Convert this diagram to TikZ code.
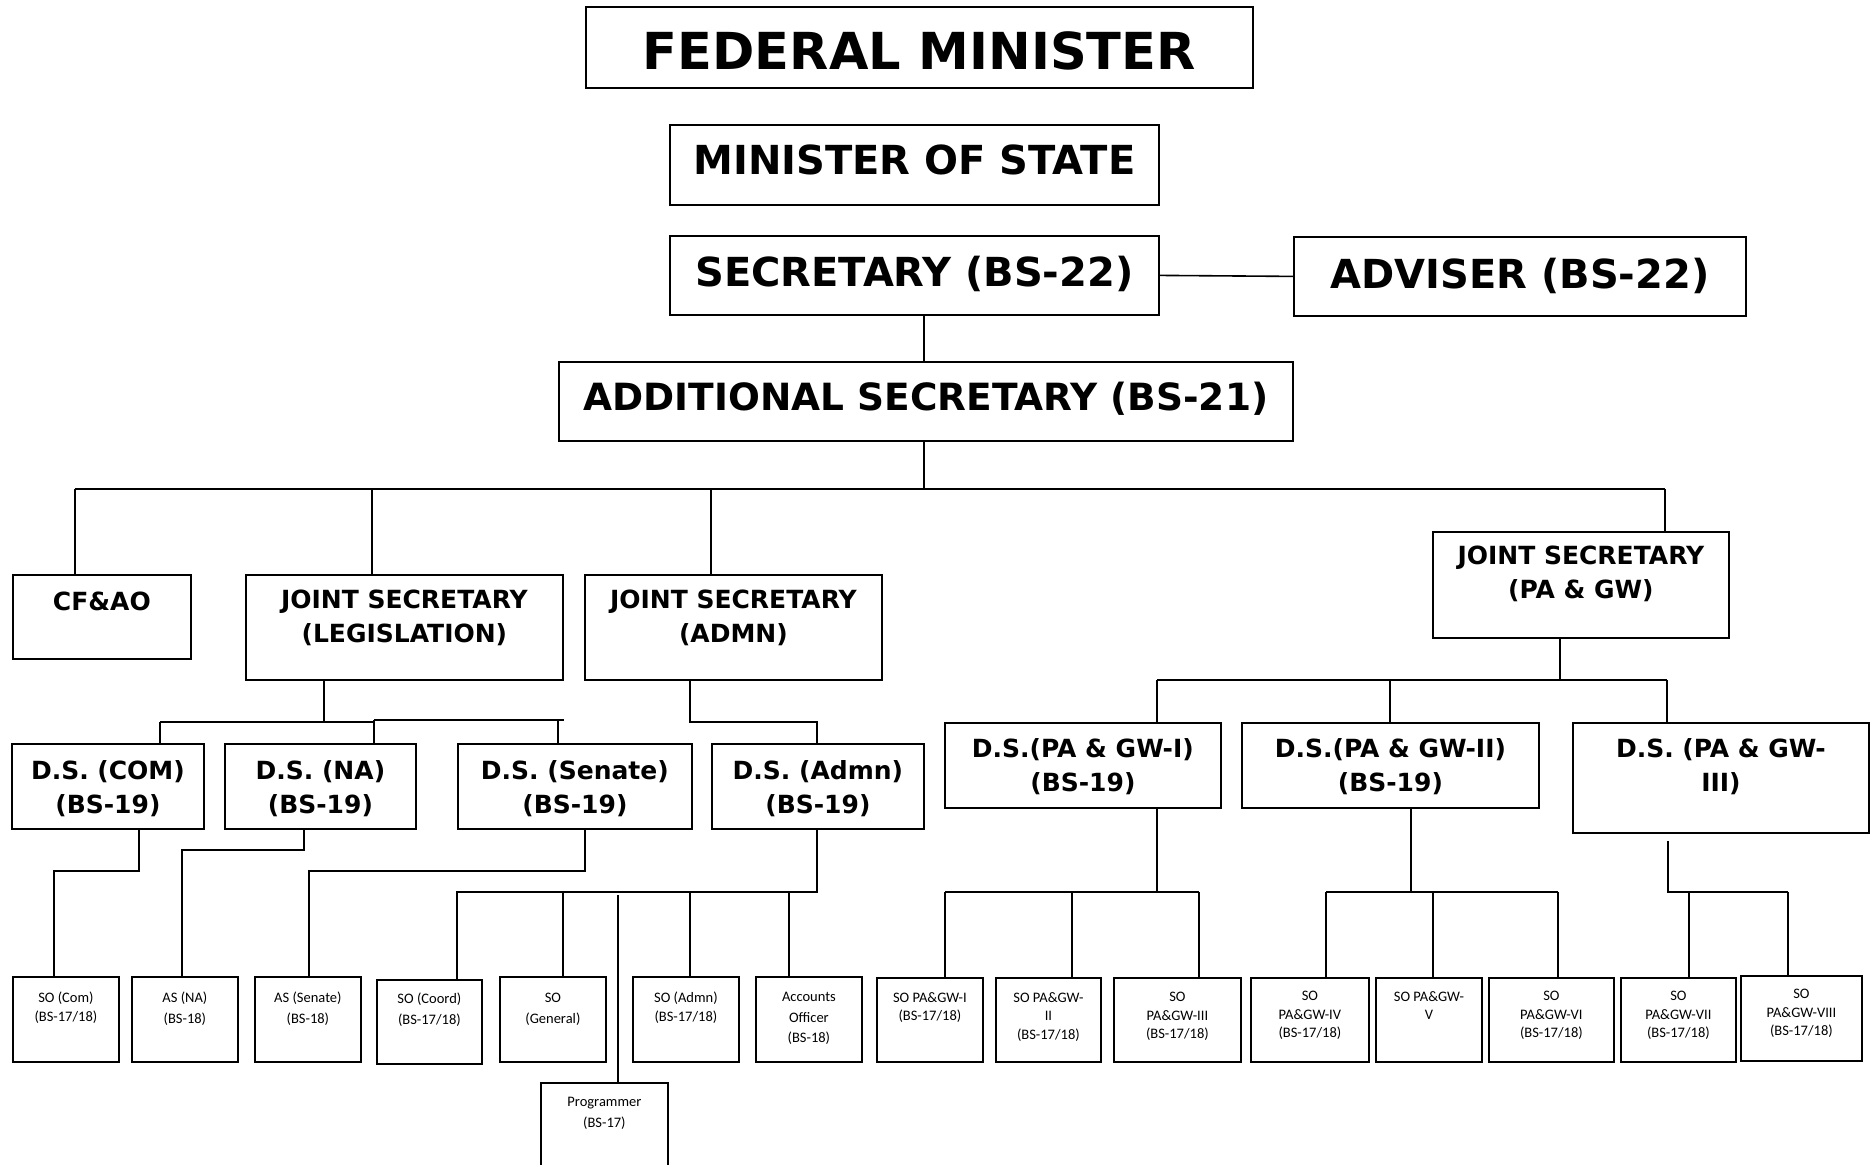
\documentclass[tikz,border=0pt]{standalone}
\usepackage{fontspec}
\newfontfamily\verd{DejaVu Sans}
\newfontfamily\cali{Carlito}
\begin{document}
\begin{tikzpicture}[x=1pt, y=-1pt,
    box/.style={draw, line width=1.8pt, inner sep=0pt, anchor=north west},
    wire/.style={line width=1.6pt},
    head/.style={anchor=north, align=center, inner sep=0pt, font=\verd\bfseries\fontsize{#1}{#1}\selectfont},
    hd/.style={anchor=north, align=center, inner sep=0pt, font=\verd\bfseries\fontsize{25}{34}\selectfont},
    sm/.style={anchor=north, align=center, inner sep=0pt, font=\cali\fontsize{14.5}{#1}\selectfont},
    sm/.default=18.5]

  \path[use as bounding box, fill=white] (0,0) rectangle (1875,1165);

  % ministers and secretary
  \node (fm) [box, minimum width=667pt, minimum height=81pt,
    label={[head=51, yshift=-25pt]north:FEDERAL MINISTER}] at (585,6) {};
  \node (mos) [box, minimum width=489pt, minimum height=80pt,
    label={[head=40, yshift=-21pt]north:MINISTER OF STATE}] at (669,124) {};
  \node (sec) [box, minimum width=489pt, minimum height=79pt,
    label={[head=40, yshift=-21pt]north:SECRETARY (BS-22)}] at (669,235) {};
  \node (adv) [box, minimum width=452pt, minimum height=79pt,
    label={[head=40, yshift=-22pt]north:ADVISER (BS-22)}] at (1293,236) {};
  \node (as) [box, minimum width=734pt, minimum height=79pt,
    label={[head=37.5, yshift=-21pt]north:ADDITIONAL SECRETARY (BS-21)}] at (558,361) {};

  % joint secretaries
  \node (cfao) [box, minimum width=178pt, minimum height=84pt,
    label={[hd, yshift=-18pt]north:CF\&AO}] at (12,574) {};
  \node (jsl) [box, minimum width=317pt, minimum height=105pt,
    label={[hd, yshift=-16pt]north:JOINT SECRETARY\\(LEGISLATION)}] at (245,574) {};
  \node (jsa) [box, minimum width=297pt, minimum height=105pt,
    label={[hd, yshift=-16pt]north:JOINT SECRETARY\\(ADMN)}] at (584,574) {};
  \node (jsp) [box, minimum width=296pt, minimum height=106pt,
    label={[hd, yshift=-15pt]north:JOINT SECRETARY\\(PA \& GW)}] at (1432,531) {};

  % deputy secretaries
  \node (dsc) [box, minimum width=192pt, minimum height=85pt,
    label={[hd, yshift=-17pt]north:D.S. (COM)\\(BS-19)}] at (11,743) {};
  \node (dsn) [box, minimum width=191pt, minimum height=85pt,
    label={[hd, yshift=-17pt]north:D.S. (NA)\\(BS-19)}] at (224,743) {};
  \node (dss) [box, minimum width=234pt, minimum height=85pt,
    label={[hd, yshift=-17pt]north:D.S. (Senate)\\(BS-19)}] at (457,743) {};
  \node (dsa) [box, minimum width=212pt, minimum height=85pt,
    label={[hd, yshift=-17pt]north:D.S. (Admn)\\(BS-19)}] at (711,743) {};
  \node (dp1) [box, minimum width=276pt, minimum height=85pt,
    label={[hd, yshift=-16pt]north:D.S.(PA \& GW-I)\\(BS-19)}] at (944,722) {};
  \node (dp2) [box, minimum width=297pt, minimum height=85pt,
    label={[hd, yshift=-16pt]north:D.S.(PA \& GW-II)\\(BS-19)}] at (1241,722) {};
  \node (dp3) [box, minimum width=296pt, minimum height=110pt,
    label={[hd, yshift=-16pt]north:D.S. (PA \& GW-\\III)}] at (1572,722) {};

  % section officers
  \node (so1) [box, minimum width=106pt, minimum height=85pt,
    label={[sm, yshift=-16pt]north:SO (Com)\\(BS-17/18)}] at (12,976) {};
  \node (so2) [box, minimum width=106pt, minimum height=85pt,
    label={[sm=20.5, yshift=-16pt]north:AS (NA)\\(BS-18)}] at (131,976) {};
  \node (so3) [box, minimum width=106pt, minimum height=85pt,
    label={[sm=20.5, yshift=-16pt]north:AS (Senate)\\(BS-18)}] at (254,976) {};
  \node (so4) [box, minimum width=105pt, minimum height=84pt,
    label={[sm=20.5, yshift=-14pt]north:SO (Coord)\\(BS-17/18)}] at (376,979) {};
  \node (so5) [box, minimum width=106pt, minimum height=85pt,
    label={[sm=20.5, yshift=-17pt]north:SO\\(General)}] at (499,976) {};
  \node (so6) [box, minimum width=106pt, minimum height=85pt,
    label={[sm, yshift=-16pt]north:SO (Admn)\\(BS-17/18)}] at (632,976) {};
  \node (so7) [box, minimum width=106pt, minimum height=85pt,
    label={[sm=20.5, yshift=-16pt]north:Accounts\\Officer\\(BS-18)}] at (755,976) {};
  \node (so8) [box, minimum width=106pt, minimum height=84pt,
    label={[sm, yshift=-15pt]north:SO PA\&GW-I\\(BS-17/18)}] at (876,977) {};
  \node (so9) [box, minimum width=105pt, minimum height=84pt,
    label={[sm, yshift=-15pt]north:SO PA\&GW-\\II\\(BS-17/18)}] at (995,977) {};
  \node (so10) [box, minimum width=127pt, minimum height=84pt,
    label={[sm, yshift=-15pt]north:SO\\PA\&GW-III\\(BS-17/18)}] at (1113,977) {};
  \node (so11) [box, minimum width=118pt, minimum height=84pt,
    label={[sm, yshift=-14pt]north:SO\\PA\&GW-IV\\(BS-17/18)}] at (1250,977) {};
  \node (so12) [box, minimum width=106pt, minimum height=84pt,
    label={[sm, yshift=-14pt]north:SO PA\&GW-\\V}] at (1375,977) {};
  \node (so13) [box, minimum width=125pt, minimum height=84pt,
    label={[sm, yshift=-14pt]north:SO\\PA\&GW-VI\\(BS-17/18)}] at (1488,977) {};
  \node (so14) [box, minimum width=115pt, minimum height=84pt,
    label={[sm, yshift=-14pt]north:SO\\PA\&GW-VII\\(BS-17/18)}] at (1620,977) {};
  \node (so15) [box, minimum width=121pt, minimum height=85pt,
    label={[sm, yshift=-14pt]north:SO\\PA\&GW-VIII\\(BS-17/18)}] at (1740,975) {};
  \node (prog) [box, minimum width=127pt, minimum height=100pt,
    label={[sm=20.5, yshift=-15pt]north:Programmer\\(BS-17)}] at (540,1082) {};

  % junctions
  \coordinate (spine) at (924,489);
  \coordinate (t1) at (75,489);   \coordinate (t2) at (372,489);
  \coordinate (t3) at (711,489);  \coordinate (t4) at (1665,489);
  \coordinate (l0) at (324,722);  \coordinate (l1) at (160,722);
  \coordinate (l2) at (374,720);  \coordinate (l3) at (558,720);
  \coordinate (a0) at (690,722);  \coordinate (a1) at (817,722);
  \coordinate (p0) at (1560,680); \coordinate (p1) at (1157,680);
  \coordinate (p2) at (1390,680); \coordinate (p3) at (1667,680);
  \coordinate (c0) at (139,871);  \coordinate (c1) at (54,871);
  \coordinate (n0) at (304,850);  \coordinate (n1) at (182,850);
  \coordinate (s0) at (585,871);  \coordinate (s1) at (309,871);
  \coordinate (d0) at (817,892);  \coordinate (d1) at (457,892);
  \coordinate (d2) at (563,892);  \coordinate (d3) at (690,892);
  \coordinate (d4) at (789,892);  \coordinate (g0) at (618,895);
  \coordinate (q0) at (1157,892); \coordinate (q1) at (945,892);
  \coordinate (q2) at (1072,892); \coordinate (q3) at (1199,892);
  \coordinate (r0) at (1411,892); \coordinate (r1) at (1326,892);
  \coordinate (r2) at (1433,892); \coordinate (r3) at (1558,892);
  \coordinate (u0) at (1668,892); \coordinate (u1) at (1689,892);
  \coordinate (u2) at (1788,892);

  % top of the chart
  \draw [wire] (sec.east) -- (adv.west);
  \draw [wire] (sec.south -| spine) -- (as.north -| spine);
  \draw [wire] (as.south -| spine) -- (spine);
  \draw [wire] (t1) -- (t4);
  \draw [wire] (t1) -- (t1 |- cfao.north);
  \draw [wire] (t2) -- (t2 |- jsl.north);
  \draw [wire] (t3) -- (t3 |- jsa.north);
  \draw [wire] (t4) -- (t4 |- jsp.north);

  % legislation wing
  \draw [wire] (jsl.south -| l0) -- (l0);
  \draw [wire] (l1) -- (l1 -| l2);
  \draw [wire] (l2) -- ([xshift=6pt]l3);
  \draw [wire] (l1) -- (l1 |- dsc.north);
  \draw [wire] (l2) -- (l2 |- dsn.north);
  \draw [wire] (l3) -- (l3 |- dss.north);
  \draw [wire] (jsa.south -| a0) -- (a0) -- (a1) -- (a1 |- dsa.north);

  \draw [wire] (dsc.south -| c0) -- (c0) -- (c1) -- (c1 |- so1.north);
  \draw [wire] (dsn.south -| n0) -- (n0) -- (n1) -- (n1 |- so2.north);
  \draw [wire] (dss.south -| s0) -- (s0) -- (s1) -- (s1 |- so3.north);

  % admn wing
  \draw [wire] (dsa.south -| d0) -- (d0) -- (d1) -- (d1 |- so4.north);
  \draw [wire] (d2) -- (d2 |- so5.north);
  \draw [wire] (d3) -- (d3 |- so6.north);
  \draw [wire] (d4) -- (d4 |- so7.north);
  \draw [wire] (g0) -- (g0 |- prog.north);

  % pa & gw wing
  \draw [wire] (jsp.south -| p0) -- (p0);
  \draw [wire] (p1) -- (p3);
  \draw [wire] (p1) -- (p1 |- dp1.north);
  \draw [wire] (p2) -- (p2 |- dp2.north);
  \draw [wire] (p3) -- (p3 |- dp3.north);

  \draw [wire] (dp1.south -| q0) -- (q0);
  \draw [wire] (q1) -- (q3);
  \draw [wire] (q1) -- (q1 |- so8.north);
  \draw [wire] (q2) -- (q2 |- so9.north);
  \draw [wire] (q3) -- (q3 |- so10.north);

  \draw [wire] (dp2.south -| r0) -- (r0);
  \draw [wire] (r1) -- (r3);
  \draw [wire] (r1) -- (r1 |- so11.north);
  \draw [wire] (r2) -- (r2 |- so12.north);
  \draw [wire] (r3) -- (r3 |- so13.north);

  \draw [wire] ([yshift=-7pt]dp3.south -| u0) -- (u0) -- (u2);
  \draw [wire] (u1) -- (u1 |- so14.north);
  \draw [wire] (u2) -- (u2 |- so15.north);
\end{tikzpicture}
\end{document}
